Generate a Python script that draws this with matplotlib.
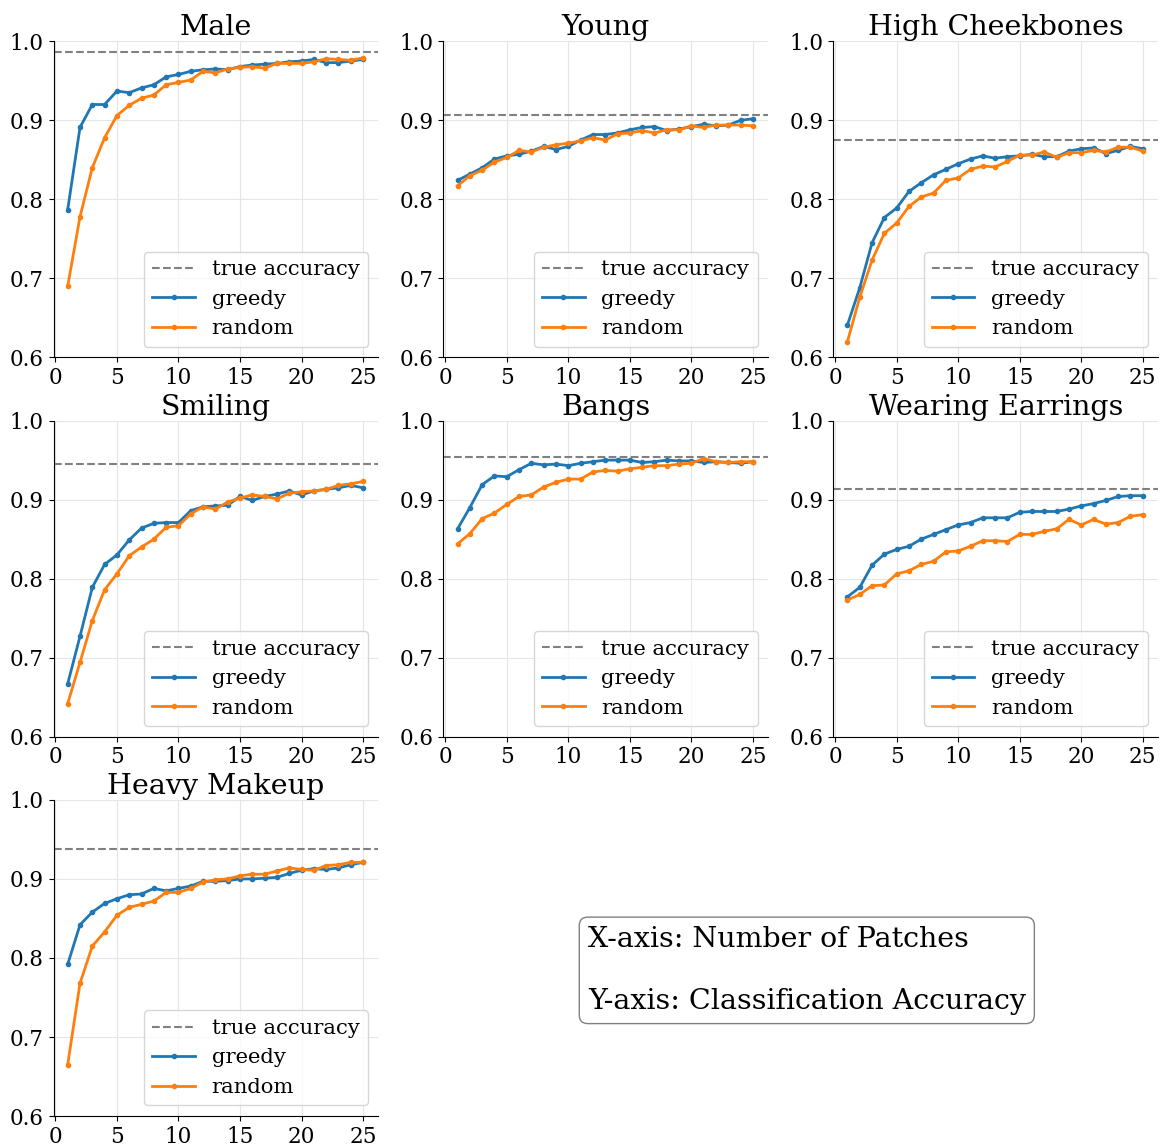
import numpy as np
import matplotlib
matplotlib.use('Agg')
import matplotlib.pyplot as plt

plt.rcParams['font.family'] = 'DejaVu Serif'

patches = np.arange(1, 26)

titles = ['Male', 'Young', 'High Cheekbones', 'Smiling', 'Bangs',
          'Wearing Earrings', 'Heavy Makeup']

true_acc = [0.986, 0.907, 0.875, 0.945, 0.954, 0.913, 0.938]

male_greedy = [0.787, 0.891, 0.920, 0.920, 0.937, 0.935, 0.941, 0.945, 0.955, 0.958,
               0.962, 0.964, 0.965, 0.964, 0.968, 0.970, 0.971, 0.972, 0.974, 0.975,
               0.977, 0.973, 0.973, 0.975, 0.977]
male_random = [0.690, 0.778, 0.840, 0.878, 0.906, 0.919, 0.928, 0.932, 0.945, 0.948,
               0.951, 0.962, 0.960, 0.965, 0.967, 0.968, 0.966, 0.972, 0.972, 0.972,
               0.974, 0.978, 0.977, 0.976, 0.979]

young_greedy = [0.824, 0.832, 0.840, 0.851, 0.855, 0.857, 0.861, 0.867, 0.863, 0.867,
                0.875, 0.882, 0.882, 0.884, 0.888, 0.891, 0.892, 0.887, 0.889, 0.892,
                0.895, 0.893, 0.894, 0.900, 0.902]
young_random = [0.817, 0.830, 0.837, 0.847, 0.853, 0.862, 0.860, 0.866, 0.869, 0.871,
                0.874, 0.878, 0.875, 0.883, 0.884, 0.887, 0.884, 0.888, 0.888, 0.893,
                0.891, 0.894, 0.894, 0.894, 0.893]

cheek_greedy = [0.641, 0.688, 0.745, 0.777, 0.789, 0.810, 0.821, 0.831, 0.838, 0.845,
                0.851, 0.855, 0.852, 0.854, 0.855, 0.857, 0.854, 0.854, 0.861, 0.864,
                0.865, 0.858, 0.862, 0.867, 0.864]
cheek_random = [0.620, 0.676, 0.723, 0.757, 0.770, 0.791, 0.803, 0.808, 0.824, 0.827,
                0.838, 0.842, 0.841, 0.848, 0.856, 0.856, 0.860, 0.853, 0.859, 0.859,
                0.862, 0.860, 0.866, 0.866, 0.861]

smile_greedy = [0.667, 0.727, 0.789, 0.818, 0.830, 0.849, 0.864, 0.870, 0.871, 0.871,
                0.886, 0.891, 0.892, 0.893, 0.904, 0.899, 0.904, 0.907, 0.911, 0.906,
                0.911, 0.913, 0.915, 0.918, 0.915]
smile_random = [0.642, 0.694, 0.747, 0.786, 0.806, 0.829, 0.840, 0.850, 0.865, 0.867,
                0.882, 0.891, 0.888, 0.897, 0.902, 0.906, 0.904, 0.901, 0.908, 0.910,
                0.911, 0.913, 0.918, 0.920, 0.923]

bangs_greedy = [0.863, 0.890, 0.919, 0.930, 0.929, 0.938, 0.946, 0.944, 0.945, 0.943,
                0.946, 0.948, 0.950, 0.950, 0.950, 0.947, 0.948, 0.950, 0.949, 0.949,
                0.947, 0.948, 0.947, 0.946, 0.948]
bangs_random = [0.844, 0.857, 0.876, 0.883, 0.894, 0.904, 0.906, 0.916, 0.922, 0.926,
                0.926, 0.935, 0.937, 0.936, 0.939, 0.941, 0.943, 0.943, 0.945, 0.946,
                0.952, 0.948, 0.947, 0.948, 0.948]

earr_greedy = [0.777, 0.789, 0.817, 0.831, 0.837, 0.841, 0.850, 0.856, 0.862, 0.868,
               0.871, 0.877, 0.877, 0.877, 0.884, 0.885, 0.885, 0.885, 0.888, 0.892,
               0.895, 0.899, 0.904, 0.905, 0.905]
earr_random = [0.773, 0.780, 0.791, 0.792, 0.806, 0.810, 0.818, 0.822, 0.834, 0.835,
               0.841, 0.848, 0.848, 0.847, 0.856, 0.856, 0.860, 0.863, 0.875, 0.868,
               0.875, 0.869, 0.871, 0.879, 0.881]

makeup_greedy = [0.792, 0.842, 0.858, 0.869, 0.875, 0.880, 0.881, 0.888, 0.885, 0.888,
                 0.891, 0.897, 0.897, 0.898, 0.900, 0.900, 0.901, 0.902, 0.907, 0.911,
                 0.913, 0.912, 0.914, 0.918, 0.921]
makeup_random = [0.665, 0.768, 0.815, 0.833, 0.854, 0.864, 0.868, 0.872, 0.883, 0.883,
                 0.888, 0.896, 0.899, 0.900, 0.904, 0.906, 0.906, 0.910, 0.914, 0.912,
                 0.911, 0.917, 0.918, 0.921, 0.921]

greedy = [male_greedy, young_greedy, cheek_greedy, smile_greedy, bangs_greedy,
          earr_greedy, makeup_greedy]
random_ = [male_random, young_random, cheek_random, smile_random, bangs_random,
           earr_random, makeup_random]

fig, axes = plt.subplots(3, 3, figsize=(11.64, 11.47), dpi=100)
fig.subplots_adjust(left=0.046, right=0.995, top=0.964, bottom=0.027,
                    wspace=0.2, hspace=0.2)

for i, ax in enumerate(axes.flat):
  if i >= len(titles):
    ax.axis('off')
    continue
  ax.axhline(true_acc[i], color='gray', ls='--', lw=1.5, label='true accuracy')
  ax.plot(patches, greedy[i], '.-', color='tab:blue', lw=2, ms=6, label='greedy')
  ax.plot(patches, random_[i], '.-', color='tab:orange', lw=2, ms=6, label='random')
  ax.set_title(titles[i], fontsize=20.5, pad=2)
  ax.set_ylim(0.6, 1.0)
  ax.set_xlim(-0.15, 26.25)
  ax.set_xticks([0, 5, 10, 15, 20, 25])
  ax.set_yticks([0.6, 0.7, 0.8, 0.9, 1.0])
  ax.tick_params(labelsize=15.5)
  ax.grid(True, color='#e5e5e5', lw=0.8)
  ax.spines['top'].set_visible(False)
  ax.spines['right'].set_visible(False)
  ax.legend(loc='lower right', fontsize=15.2, handlelength=2.0, labelspacing=0.5)

fig.text(0.505, 0.154, 'X-axis: Number of Patches\n\nY-axis: Classification Accuracy',
         fontsize=20.5, ha='left', va='center', multialignment='left',
         bbox=dict(boxstyle='round', facecolor='white', edgecolor='gray', pad=0.3))

fig.savefig('out.png')
